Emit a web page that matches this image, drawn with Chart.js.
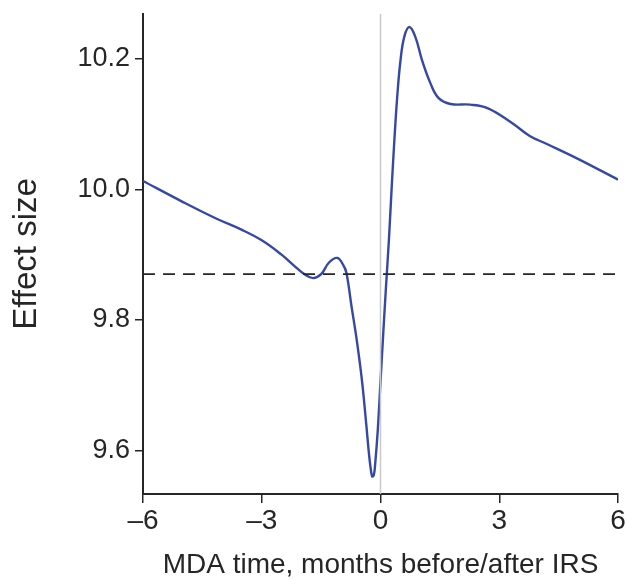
<!DOCTYPE html>
<html>
<head>
<meta charset="utf-8">
<script src="https://cdn.jsdelivr.net/npm/chart.js@4.4.1/dist/chart.umd.min.js"></script>
<style>
  html, body { margin: 0; padding: 0; background: #fff; }
  #wrap { width: 626px; height: 580px; }
</style>
</head>
<body>
<div id="wrap"><canvas id="myChart"></canvas></div>
<script>
// effect curve, months relative to IRS
const monthsX = [-6.0, -5.0, -4.14, -3.5, -3.0, -2.5, -2.2, -1.9, -1.70, -1.5, -1.3, -1.09,
  -0.94, -0.86, -0.73, -0.60, -0.47, -0.36, -0.30, -0.25, -0.21, -0.17, -0.14, -0.07, 0.0, 0.07, 0.14, 0.21,
  0.28, 0.35, 0.42, 0.50, 0.60, 0.73, 0.88, 1.05, 1.26, 1.47, 1.77, 2.27, 2.73, 3.34, 3.77, 4.19, 4.95, 6.0];
const effectY = [10.013, 9.981, 9.955, 9.938, 9.922, 9.900, 9.884, 9.869, 9.864, 9.870, 9.888, 9.895,
  9.884, 9.872, 9.820, 9.769, 9.708, 9.640, 9.600, 9.573, 9.560, 9.562, 9.575, 9.630, 9.705, 9.780, 9.852, 9.920,
  10.000, 10.075, 10.140, 10.195, 10.234, 10.249, 10.234, 10.198, 10.163, 10.140, 10.131, 10.130, 10.124, 10.101, 10.082, 10.070, 10.048, 10.015];

const baselineY = 9.870;
const xTicks = [-6, -3, 0, 3, 6];
const yTicks = [9.6, 9.8, 10.0, 10.2];
const yMin = 9.533, yMax = 10.269;

const curvePts = monthsX.map((m, i) => ({ x: m, y: effectY[i] }));
const dark = "#262626";
const font = "'Liberation Sans', Arial, Helvetica, sans-serif";

var ctx = document.getElementById("myChart");
var myChart = new Chart(ctx, {
  type: "line",
  data: {
    datasets: [
      {
        // IRS marker at month 0
        data: [{ x: 0, y: yMin }, { x: 0, y: yMax }],
        borderColor: "#c9c9c9",
        borderWidth: 1.5,
        pointRadius: 0,
      },
      {
        data: [{ x: -6, y: baselineY }, { x: 6, y: baselineY }],
        borderColor: dark,
        borderWidth: 1.8,
        borderDash: [12, 8],
        pointRadius: 0,
      },
      {
        data: curvePts,
        borderColor: "#3548a6",
        borderWidth: 2.4,
        pointRadius: 0,
        tension: 0.4,
      },
    ],
  },
  options: {
    responsive: true,
    maintainAspectRatio: false,
    animation: false,
    layout: { padding: { top: 14, right: 8, left: 0, bottom: 0 } },
    plugins: { legend: { display: false }, tooltip: { enabled: false } },
    scales: {
      x: {
        type: "linear",
        min: -6,
        max: 6,
        afterBuildTicks: (s) => { s.ticks = xTicks.map((v) => ({ value: v })); },
        afterFit: (s) => { s.height = 86; s.paddingLeft = 0; s.paddingRight = 0; },
        ticks: {
          color: dark,
          padding: 1,
          maxRotation: 0,
          autoSkip: false,
          font: { family: font, size: 28 },
          callback: (v) => (v < 0 ? "\u2013" + Math.abs(v) : String(v)),
        },
        grid: { drawOnChartArea: false, drawTicks: true, tickLength: 9, color: dark, lineWidth: 1.5 },
        border: { display: true, color: dark, width: 2 },
        title: {
          display: true,
          text: "MDA time, months before/after IRS",
          color: dark,
          font: { family: font, size: 28, lineHeight: 1 },
          padding: { top: 0, bottom: 1 },
        },
      },
      y: {
        type: "linear",
        min: yMin,
        max: yMax,
        afterBuildTicks: (s) => { s.ticks = yTicks.map((v) => ({ value: v })); },
        afterFit: (s) => { s.width = 143; s.paddingTop = 0; s.paddingBottom = 0; },
        ticks: {
          color: dark,
          padding: 5,
          font: { family: font, size: 27 },
          callback: (v) => v.toFixed(1),
        },
        grid: { drawOnChartArea: false, drawTicks: true, tickLength: 8, color: dark, lineWidth: 1.5 },
        border: { display: true, color: dark, width: 2 },
        title: {
          display: true,
          text: "Effect size",
          color: dark,
          font: { family: font, size: 33, lineHeight: 1 },
          padding: { top: 10, bottom: 0 },
        },
      },
    },
  },
});
</script>
</body>
</html>
